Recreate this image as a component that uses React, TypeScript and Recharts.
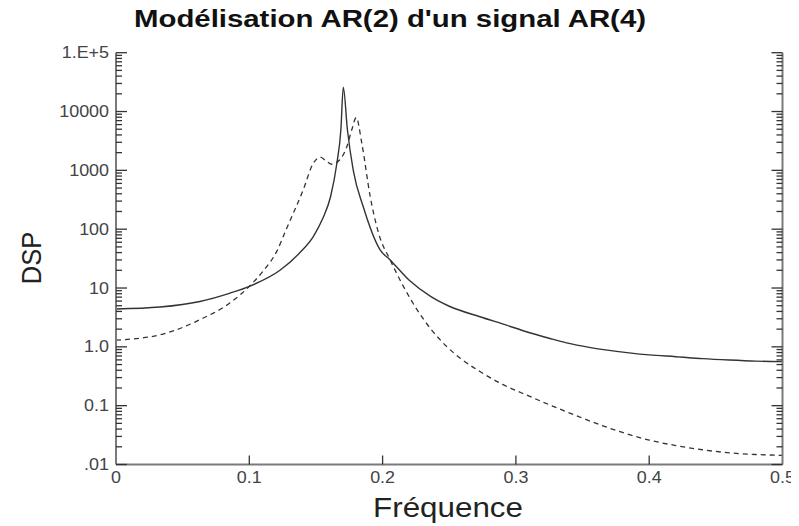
import React from 'react';
import { LineChart, Line, XAxis, YAxis } from 'recharts';

// AR(2) model spectrum (solid)
const modelFreq = [0, 0.033, 0.063, 0.0856, 0.1006, 0.123, 0.138, 0.148, 0.155, 0.161, 0.1657, 0.1687, 0.1705, 0.1736, 0.178, 0.1855, 0.198, 0.2057, 0.22, 0.236, 0.25, 0.273, 0.29, 0.311, 0.325, 0.338, 0.355, 0.37, 0.385, 0.4, 0.42, 0.44, 0.46, 0.48, 0.5];
const modelDsp = [4.4, 4.75, 5.9, 8.2, 10.8, 20, 40, 75, 150, 359, 1320, 4900, 26000, 4900, 1000, 240, 45, 30, 13.5, 7.2, 4.9, 3.25, 2.45, 1.72, 1.4, 1.17, 0.98, 0.87, 0.79, 0.73, 0.68, 0.63, 0.596, 0.571, 0.56];

// AR(4) signal spectrum (dashed)
const signalFreq = [0, 0.033, 0.063, 0.0856, 0.1006, 0.11, 0.1206, 0.1276, 0.1405, 0.148, 0.1532, 0.1575, 0.1617, 0.1677, 0.1732, 0.177, 0.1802, 0.1844, 0.1907, 0.197, 0.2057, 0.2258, 0.2483, 0.26, 0.273, 0.29, 0.31, 0.3258, 0.345, 0.3634, 0.38, 0.4, 0.42, 0.44, 0.46, 0.48, 0.5];
const signalDsp = [1.3, 1.6, 2.9, 5.6, 11, 19, 42, 98, 470, 1320, 1675, 1450, 1270, 1500, 2540, 5000, 7900, 2900, 360, 85, 30, 4.3, 1.0, 0.6, 0.38, 0.23, 0.145, 0.102, 0.068, 0.047, 0.035, 0.026, 0.021, 0.0178, 0.0158, 0.0148, 0.0143];

const xTicks = [0, 0.1, 0.2, 0.3, 0.4, 0.5];
const xLabels = ['0', '0.1', '0.2', '0.3', '0.4', '0.5'];
const decades = [0.01, 0.1, 1, 10, 100, 1000, 10000, 100000];
const decadeLabels = ['.01', '0.1', '1.0', '10', '100', '1000', '10000', '1.E+5'];

const modelData = modelFreq.map((f, i) => ({ f, v: modelDsp[i] }));
const signalData = signalFreq.map((f, i) => ({ f, v: signalDsp[i] }));

const yTicks: number[] = [];
decades.forEach((d, i) => {
  yTicks.push(d);
  if (i < decades.length - 1) for (let k = 2; k <= 9; k++) yTicks.push(k * d);
});

const isMajor = (v: number) => decades.some((d) => Math.abs(v - d) / d < 1e-6);
const labelOf = (v: number) => {
  const i = decades.findIndex((d) => Math.abs(v - d) / d < 1e-6);
  return i >= 0 ? decadeLabels[i] : '';
};

const W = 799;
const H = 526;
// plot frame
const L = 116;
const R = 782.5;
const T = 52.7;
const B = 464.5;

const FONT = 'Liberation Sans, Arial, sans-serif';
const AXIS = '#7a7a7a';
const INK = '#333';

const LeftTick = ({ y, payload }: any) => {
  const major = isMajor(payload.value);
  return (
    <g>
      <line x1={L} y1={y} x2={L + (major ? 11 : 6)} y2={y} stroke={INK} strokeWidth={1.3} />
      {major && (
        <text transform={`translate(${L - 7},${y + 5.5}) scale(1.12,1)`} textAnchor="end" fontSize={16} fontFamily={FONT} fill="#444">
          {labelOf(payload.value)}
        </text>
      )}
    </g>
  );
};

const RightTick = ({ y, payload }: any) => {
  const major = isMajor(payload.value);
  return <line x1={R - (major ? 11 : 6)} y1={y} x2={R} y2={y} stroke={INK} strokeWidth={1.3} />;
};

const BottomTick = ({ x, payload, index }: any) => (
  <g>
    {index > 0 && index < xTicks.length - 1 && (
      <line x1={x} y1={B} x2={x} y2={B - 9} stroke={INK} strokeWidth={1.3} />
    )}
    <text transform={`translate(${x},${B + 18.5}) scale(1.12,1)`} textAnchor="middle" fontSize={16} fontFamily={FONT} fill="#444">
      {xLabels[index] ?? payload.value}
    </text>
  </g>
);

const TopTick = ({ x, index }: any) =>
  index > 0 && index < xTicks.length - 1 ? (
    <line x1={x} y1={T} x2={x} y2={T + 9} stroke={INK} strokeWidth={1.3} />
  ) : (
    <g />
  );

export default function App() {
  return (
    <div style={{ position: 'relative', width: W, height: H, marginTop: -8, marginLeft: -8 }}>
      <LineChart width={W} height={H} margin={{ top: T, right: 0, bottom: 0, left: 0 }}>
        <XAxis
          xAxisId="bottom"
          dataKey="f"
          type="number"
          domain={[0, 0.5]}
          ticks={xTicks}
          interval={0}
          height={H - B}
          tickSize={0}
          tickMargin={0}
          tickLine={false}
          axisLine={{ stroke: AXIS, strokeWidth: 2 }}
          tick={<BottomTick />}
        />
        <XAxis
          xAxisId="top"
          orientation="top"
          dataKey="f"
          type="number"
          domain={[0, 0.5]}
          ticks={xTicks}
          interval={0}
          height={0}
          tickSize={0}
          tickMargin={0}
          tickLine={false}
          axisLine={{ stroke: AXIS, strokeWidth: 2 }}
          tick={<TopTick />}
        />
        <YAxis
          yAxisId="left"
          type="number"
          scale="log"
          domain={[0.01, 100000]}
          allowDataOverflow
          ticks={yTicks}
          interval={0}
          width={L}
          tickSize={0}
          tickMargin={0}
          tickLine={false}
          axisLine={{ stroke: AXIS, strokeWidth: 2 }}
          tick={<LeftTick />}
        />
        <YAxis
          yAxisId="right"
          orientation="right"
          type="number"
          scale="log"
          domain={[0.01, 100000]}
          allowDataOverflow
          ticks={yTicks}
          interval={0}
          width={W - R}
          tickSize={0}
          tickMargin={0}
          tickLine={false}
          axisLine={{ stroke: AXIS, strokeWidth: 2 }}
          tick={<RightTick />}
        />
        <Line
          xAxisId="bottom"
          yAxisId="left"
          data={signalData}
          dataKey="v"
          type="monotone"
          stroke={INK}
          strokeWidth={1.3}
          strokeDasharray="5 4"
          dot={false}
          isAnimationActive={false}
        />
        <Line
          xAxisId="bottom"
          yAxisId="left"
          data={modelData}
          dataKey="v"
          type="monotone"
          stroke={INK}
          strokeWidth={1.4}
          dot={false}
          isAnimationActive={false}
        />
      </LineChart>
      <svg width={W} height={H} style={{ position: 'absolute', left: 0, top: 0, pointerEvents: 'none' }}>
        <text x={390} y={27} textAnchor="middle" fontSize={23} fontWeight="bold" fontFamily={FONT} fill="#111" textLength={512} lengthAdjust="spacingAndGlyphs">
          Modélisation AR(2) d'un signal AR(4)
        </text>
        <text transform="translate(41,258) scale(1.12,1) rotate(-90)" textAnchor="middle" fontSize={25.5} fontFamily={FONT} fill="#222">
          DSP
        </text>
        <text transform="translate(448,517) scale(1.12,1)" textAnchor="middle" fontSize={28} fontFamily={FONT} fill="#222">
          Fréquence
        </text>
      </svg>
    </div>
  );
}
